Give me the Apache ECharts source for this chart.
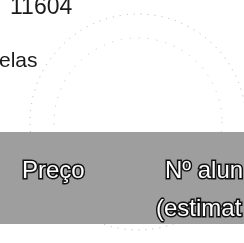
<!DOCTYPE html>
<html><head><meta charset="utf-8">
<script src="https://cdn.jsdelivr.net/npm/echarts@6/dist/echarts.min.js"></script>
<style>html,body{margin:0;padding:0;background:#fff}#c{width:244px;height:243px}</style>
</head><body><div id="c"></div>
<script>
var topTexts = ['11604', 'elas'];
var headerLabels = ['Preço', 'Nº alun', '(estimat'];
var chart = echarts.init(document.getElementById('c'), null, {renderer: 'canvas'});
var font = '"Liberation Sans", Arial, sans-serif';
var outline = {fill: '#ffffff', stroke: '#111111', lineWidth: 3, font: '24px ' + font, verticalAlign: 'top'};
chart.setOption({
  animation: false,
  backgroundColor: '#ffffff',
  graphic: [
    {type: 'circle', shape: {cx: 138, cy: 122, r: 108}, style: {fill: 'none', stroke: '#b5b5b5', lineWidth: 1, lineDash: [1, 6]}},
    {type: 'circle', shape: {cx: 138, cy: 122, r: 84}, style: {fill: 'none', stroke: '#c5c5c5', lineWidth: 1, lineDash: [1, 8]}},
    {type: 'text', x: 10, y: -4, style: {text: topTexts[0], font: '23px ' + font, fill: '#1a1a1a', verticalAlign: 'top'}},
    {type: 'text', x: -1, y: 51, style: {text: topTexts[1], font: '21px ' + font, fill: '#1a1a1a', verticalAlign: 'top'}},
    {type: 'rect', shape: {x: 0, y: 132, width: 244, height: 92}, style: {fill: '#9e9e9e'}},
    {type: 'text', x: 22, y: 159, style: Object.assign({}, outline, {text: headerLabels[0]})},
    {type: 'text', x: 165, y: 159, style: Object.assign({}, outline, {text: headerLabels[1]})},
    {type: 'text', x: 156, y: 197, style: Object.assign({}, outline, {text: headerLabels[2]})}
  ]
});
</script></body></html>
